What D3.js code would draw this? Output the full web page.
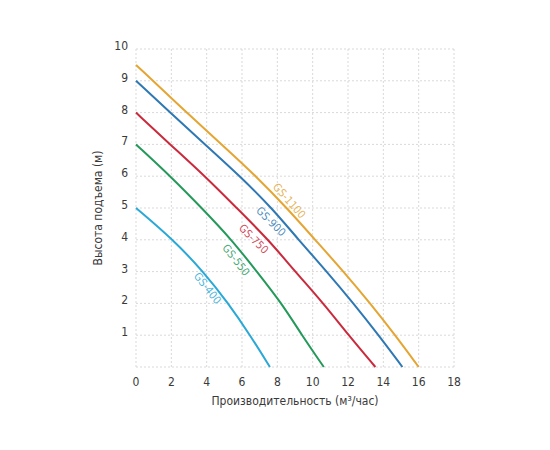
<!DOCTYPE html>
<html lang="ru">
<head>
    <meta charset="UTF-8">
    <title>Напорные характеристики GS</title>
    <script src="https://cdn.jsdelivr.net/npm/d3@7/dist/d3.min.js"></script>
    <style>
        body{ margin:0; background:#fff; }
        .tick-label{ fill:#3a3a3a; font-size:12px; font-family:'Liberation Sans Narrow','DejaVu Sans Condensed',sans-serif; }
        .axis-title{ fill:#3a3a3a; font-size:12px; font-family:'Liberation Sans Narrow','DejaVu Sans Condensed',sans-serif; }
        .grid line{ stroke:#d9d9d9; stroke-width:1; stroke-dasharray:2,2; }
        .curve-label{ font-size:11px; font-family:'Liberation Sans Narrow','DejaVu Sans Condensed',sans-serif; }
    </style>
</head>
<body>
<svg id="main" width="550" height="450"></svg>
<script>
    // data: flow (m3/h) at each head value
    const seriesNames = ['GS-1100', 'GS-900', 'GS-750', 'GS-550', 'GS-400'];
    const seriesColors = ['#e4a532', '#2e78b4', '#c92a3c', '#24995a', '#2aa8d6'];

    const flow1100 = [0, 2.87, 4.85, 6.8, 8.54, 10.14, 11.75, 13.26, 14.67, 16.0];
    const head1100 = [9.5, 8, 7, 6, 5, 4, 3, 2, 1, 0];
    const flow900 = [0, 1.93, 3.91, 5.89, 7.69, 9.2, 10.8, 12.31, 13.73, 15.08];
    const head900 = [9, 8, 7, 6, 5, 4, 3, 2, 1, 0];
    const flow750 = [0, 1.93, 3.91, 5.7, 7.5, 9.01, 10.61, 12.03, 13.55];
    const head750 = [8, 7, 6, 5, 4, 3, 2, 1, 0];
    const flow550 = [0, 1.95, 3.72, 5.42, 6.84, 8.25, 9.39, 10.63];
    const head550 = [7, 6, 5, 4, 3, 2, 1, 0];
    const flow400 = [0, 2.11, 3.81, 5.23, 6.46, 7.58];
    const head400 = [5, 4, 3, 2, 1, 0];

    // where each curve name sits (data units)
    const labelFlow = [8.67, 7.63, 6.65, 5.65, 4.04];
    const labelHead = [5.22, 4.57, 4.02, 3.36, 2.47];

    const xTicks = [0, 2, 4, 6, 8, 10, 12, 14, 16, 18];
    const yTicks = [1, 2, 3, 4, 5, 6, 7, 8, 9, 10];

    const flows = [flow1100, flow900, flow750, flow550, flow400];
    const heads = [head1100, head900, head750, head550, head400];

    let svg = d3.select('svg#main');
    let xScale = d3.scaleLinear().domain([0, 18]).range([136, 454]);
    let yScale = d3.scaleLinear().domain([0, 10]).range([367, 49]);

    // grid
    let grid = svg.append('g').attr('class', 'grid');
    grid.selectAll('line.v')
        .data(xTicks)
        .enter()
        .append('line')
        .attr('x1', d => xScale(d)).attr('x2', d => xScale(d))
        .attr('y1', yScale(0)).attr('y2', yScale(10));
    grid.selectAll('line.h')
        .data([0].concat(yTicks))
        .enter()
        .append('line')
        .attr('class', 'h')
        .attr('x1', xScale(0)).attr('x2', xScale(18))
        .attr('y1', d => yScale(d)).attr('y2', d => yScale(d));

    // tick labels
    svg.selectAll('text.xt')
        .data(xTicks)
        .enter()
        .append('text')
        .attr('class', 'tick-label xt')
        .attr('x', d => xScale(d))
        .attr('y', 386)
        .attr('text-anchor', 'middle')
        .text(d => d);
    svg.selectAll('text.yt')
        .data(yTicks)
        .enter()
        .append('text')
        .attr('class', 'tick-label yt')
        .attr('x', 128)
        .attr('y', d => yScale(d) + 1)
        .attr('text-anchor', 'end')
        .text(d => d);

    // axis titles
    svg.append('text')
        .attr('class', 'axis-title')
        .attr('x', 295).attr('y', 405)
        .attr('text-anchor', 'middle')
        .text('Производительность (м³/час)');
    svg.append('text')
        .attr('class', 'axis-title')
        .attr('transform', 'translate(102,208) rotate(-90)')
        .attr('text-anchor', 'middle')
        .text('Высота подъема (м)');

    // curves - basis smooths out small reading errors
    let line = d3.line()
        .x(d => xScale(d[0]))
        .y(d => yScale(d[1]))
        .curve(d3.curveBasis);

    seriesNames.forEach(function(name, i){
        let pts = d3.zip(flows[i], heads[i]);
        svg.append('path')
            .datum(pts)
            .attr('fill', 'none')
            .attr('stroke', seriesColors[i])
            .attr('stroke-width', 2)
            .attr('d', line);

        // angle of the curve near the label
        let lx = labelFlow[i], ly = labelHead[i];
        let k = d3.bisectLeft(flows[i], lx);
        k = Math.max(1, Math.min(k, flows[i].length - 1));
        let dx = xScale(flows[i][k]) - xScale(flows[i][k - 1]);
        let dy = yScale(heads[i][k]) - yScale(heads[i][k - 1]);
        let ang = Math.atan2(dy, dx) * 180 / Math.PI;

        svg.append('text')
            .attr('class', 'curve-label')
            .attr('fill', seriesColors[i])
            .attr('fill-opacity', 0.85)
            .attr('text-anchor', 'middle')
            .attr('dominant-baseline', 'central')
            .attr('transform', 'translate(' + xScale(lx) + ',' + yScale(ly) + ') rotate(' + ang + ')')
            .text(name);
    });
</script>
</body>
</html>
